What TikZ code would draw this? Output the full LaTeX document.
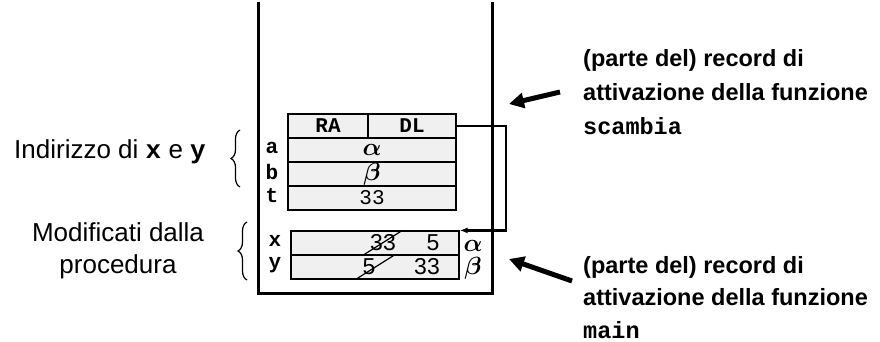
\documentclass[tikz,border=0pt]{standalone}
\usepackage{fontspec}
\usepackage{amsmath}
\setmainfont{Liberation Sans}
\setmonofont{Liberation Mono}
\usetikzlibrary{arrows.meta}
\usetikzlibrary{calc}
\usetikzlibrary{decorations.pathreplacing}

\begin{document}
\begin{tikzpicture}[x=1pt, y=-1pt,
    cell/.style = {draw, line width=1.2pt, fill=gray!12, inner sep=0pt, minimum height=24pt},
    code/.style = {font=\fontsize{21}{24}\selectfont\ttfamily\bfseries},
    plaincode/.style = {font=\fontsize{21}{24}\selectfont\ttfamily},
    val/.style = {font=\fontsize{23}{24}\selectfont, inner sep=0pt},
    greek/.style = {font=\fontsize{27}{28}\selectfont, inner sep=0pt},
    note/.style = {font=\fontsize{23.5}{34}\selectfont\bfseries, align=left, inner sep=0pt},
    side/.style = {font=\fontsize{26}{32}\selectfont, align=center, inner sep=0pt},
    bigarrow/.style = {line width=5pt, -{Triangle[length=15pt, width=15pt]}},
    link/.style = {line width=2.2pt, -{Latex[length=8pt, width=6pt]}},
    curly/.style = {decorate, decoration={brace, amplitude=9pt}, line width=1.2pt}]
    \useasboundingbox (0,0) rectangle (880,342);

    % stack
    \draw[line width=3pt] (258,2) -- (258,293) -- (492,293) -- (492,2);

    % record of scambia
    \node [cell, minimum width=80pt, code] (RA) at (328,126) {RA};
    \node [cell, minimum width=88pt, code] (DL) at (412,126) {DL};
    \node [cell, minimum width=168pt, greek] (a) at (372,150) {$\boldsymbol{\alpha}$};
    \node [cell, minimum width=168pt, greek] (b) at (372,174) {$\boldsymbol{\beta}$};
    \node [cell, minimum width=168pt, plaincode] (t) at (372,198) {33};
    \node [code] (la) at (272,148) {a};
    \node [code] (lb) at (272,172) {b};
    \node [code] (lt) at (272,196) {t};

    % record of main
    \node [cell, minimum width=168pt] (xcell) at (375,243) {};
    \node [cell, minimum width=168pt] (ycell) at (375,267) {};
    \node [code] (lx) at (275,241) {x};
    \node [code] (ly) at (275,265) {y};
    \node [val] (xold) at (383,243) {33};
    \node [val] (xnew) at (433,243) {5};
    \node [val] (yold) at (369,267) {5};
    \node [val] (ynew) at (427,267) {33};
    \draw[line width=1.2pt] ($(xcell.south west)+(72,0)$) -- ($(xcell.north west)+(112,0)$);
    \draw[line width=1.2pt] ($(ycell.south west)+(65,0)$) -- ($(ycell.north west)+(105,0)$);
    \node [greek] (alpha) at (473,246) {$\boldsymbol{\alpha}$};
    \node [greek] (beta) at (473,268) {$\boldsymbol{\beta}$};

    \draw[link] (DL.east) -- ++(49,0) |- (xcell.north east);

    % left notes
    \draw[curly] (240,187) -- (240,130);
    \draw[curly] (247,280) -- (247,222);
    \node [side] (addr) at (110,152) {Indirizzo di \texttt{\textbf{x}} e \texttt{\textbf{y}}};
    \node [side] (mod) at (118,251) {Modificati dalla\\procedura};

    % right notes
    \node [note, anchor=north west] (recs) at (583,49) {(parte del) record di\\attivazione della funzione\\\texttt{scambia}};
    \node [note, anchor=north west, font=\fontsize{23.5}{32.5}\selectfont\bfseries] (recm) at (583,256) {(parte del) record di\\attivazione della funzione\\\texttt{main}};
    \coordinate (s1) at (560,92);
    \coordinate (s2) at (509,104);
    \coordinate (m1) at (572,281);
    \coordinate (m2) at (509,259);
    \draw[bigarrow] (s1) -- (s2);
    \draw[bigarrow] (m1) -- (m2);

\end{tikzpicture}
\end{document}
